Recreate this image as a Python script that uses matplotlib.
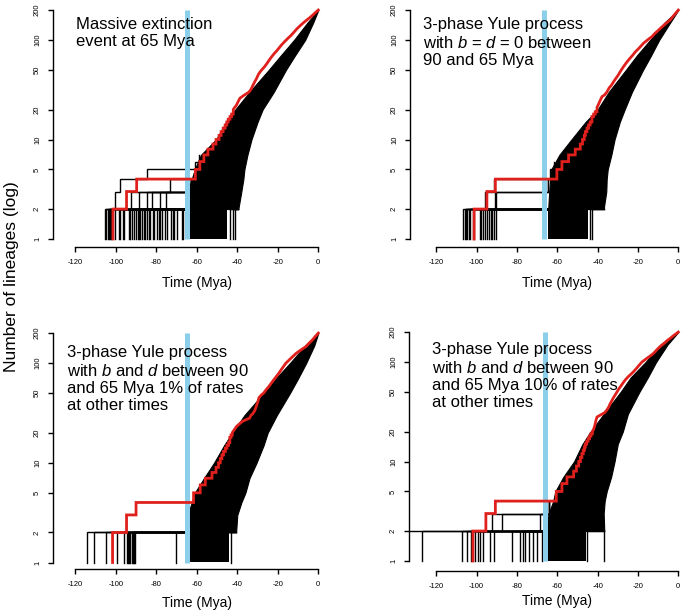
import matplotlib
matplotlib.use('Agg')
import matplotlib.pyplot as plt

plt.rcParams['font.family'] = ['Liberation Sans', 'DejaVu Sans']
plt.rcParams['mathtext.fontset'] = 'custom'
plt.rcParams['mathtext.rm'] = 'Liberation Sans'
plt.rcParams['mathtext.it'] = 'Liberation Sans:italic'
plt.rcParams['axes.unicode_minus'] = False
plt.rcParams['lines.solid_joinstyle'] = 'miter'

# lineage counts at which the edges of the dense black band were read
band_n = [2, 3, 4, 5, 7, 10, 15, 20, 30, 50, 70, 100, 150, 200]
x_ticks = [-120, -100, -80, -60, -40, -20, 0]
y_ticks = [1, 2, 5, 10, 20, 50, 100, 200]
# position of the blue marker line as drawn in each panel
event_times = [-64.7, -66.4, -64.8, -65.9]

# --- panel 1: massive extinction ---
red_t_1 = [-101.4, -101.4, -94.7, -89.7, -60.7, -58.5, -56.5, -54.5, -52, -50.5, -49, -48, -47, -46, -45.2,
           -44.5, -43.6, -42.8, -42, -41.3, -40.5, -39.6, -38.7, -37.6, -36.5, -35.3, -34.2, -33.2, -32.3,
           -31.4, -30.5, -29.6, -28.7, -27.6, -26.5, -25.4, -24.2, -23, -21.8, -20.5, -19.2, -18, -16.5, -15,
           -13.5, -12, -10.5, -9, -7.5, -6, -4.5, -3, -1.5, 0]
red_n_1 = [1, 2, 3, 4, 5, 6, 7, 8, 9, 10, 11, 12, 13, 14, 15, 16, 17, 18, 20, 21, 22, 24, 26, 27, 28, 29, 30,
           32, 35, 38, 41, 45, 48, 51, 54, 58, 63, 68, 73, 78, 84, 90, 97, 104, 111, 120, 130, 139, 148, 157,
           166, 176, 188, 200]
band_left_1 = [-65, -64.5, -62.5, -61, -58, -50.5, -45.5, -41, -34, -24.5, -18.5, -12, -5.3, 0]
band_right_1 = [-39.5, -38, -37, -36.5, -35, -33, -30, -27.5, -22, -16, -11.5, -6.5, -2.5, 0]
stem_1 = [-65, -45]
roots_1 = [-105.2, -102.8, -102.2, -100.2, -98.6, -96.5, -95.8, -92.8, -92, -91.2, -89.2, -88.7, -88.2, -87.1,
           -85.5, -84.6, -83.6, -83, -81.8, -81, -79.7, -78.9, -78, -77, -75.8, -74.7, -72.7, -71.9, -71.1,
           -69.8, -67.3, -66.8]
late_roots_1 = [-43.5, -42, -41]
early_t_1 = [[-104.6, -104.6, -100.6, -97.8, -84.6, -60.7, -59],
             [-104, -104, -88.5, -73.1, -61],
             [-103.4, -103.4, -92.5, -62.5],
             [-97.8, -97.8, -84.8, -63],
             [-93.7, -93.7, -82, -64],
             [-90, -90, -78.4, -64],
             [-86.3, -86.3, -75, -64]]
early_n_1 = [[1, 2, 3, 4, 5, 6, 7], [1, 2, 3, 4, 5], [1, 2, 3, 4], [1, 2, 3, 4], [1, 2, 3, 4], [1, 2, 3, 4],
             [1, 2, 3, 4]]

# --- panel 2: b = d = 0 between 90 and 65 Mya ---
red_t_2 = [-101.2, -101.2, -94.9, -90.7, -60.2, -57.7, -54.4, -51.1, -48.6, -47.5, -46.6, -46.1, -45.3, -44.5,
           -43.7, -42.8, -42, -41.2, -40.3, -39.4, -38.6, -37.8, -36.6, -35.4, -34.3, -33.2, -32.1, -31, -29.9,
           -28.8, -27.7, -26.6, -25.5, -24.1, -22.7, -21.3, -19.9, -18.5, -17.2, -15.8, -14.5, -13.1, -11.7,
           -10.3, -8.9, -7.3, -5.6, -4, -2.7, -1.3, 0]
red_n_2 = [1, 2, 3, 4, 5, 6, 7, 8, 9, 10, 11, 12, 13, 14, 15, 17, 18, 19, 21, 23, 25, 27, 28, 30, 33, 35, 38,
           41, 44, 48, 52, 56, 60, 65, 70, 76, 81, 87, 93, 98, 103, 108, 116, 123, 131, 140, 150, 159, 172,
           186, 200]
band_left_2 = [-64.5, -64, -63.5, -63, -59, -53, -46, -40, -34.5, -26, -20.5, -14, -6.8, 0]
band_right_2 = [-37, -35.7, -35.5, -35, -33.2, -31.6, -29, -26.6, -23, -17.5, -13.5, -9.5, -4, 0]
stem_2 = [-64.5, -45]
roots_2 = [-105.8, -104.9, -104, -101.9, -98.2, -97.6, -96.8, -95.6, -94.8, -93.8, -93.1, -92.2, -91.5, -90.6]
late_roots_2 = [-44, -42.8]
early_t_2 = [[-106.5, -106.5, -95.7, -91.6, -63.5, -61.5],
             [-105.2, -105.2, -90.2, -64.5],
             [-103.2, -103.2, -91, -64.5]]
early_n_2 = [[1, 2, 3, 4, 5, 6], [1, 2, 3, 4], [1, 2, 3, 4]]

# --- panel 3: rates 1% outside 90-65 Mya ---
red_t_3 = [-101.6, -101.6, -94.7, -90.0, -61.6, -58.3, -55.8, -52.5, -50.5, -49.3, -48.4, -47.6, -46.8, -45.9,
           -45.1, -44.3, -43.7, -43.1, -42.5, -41.8, -41.1, -40.5, -39.5, -38.5, -37.5, -35.8, -34, -33.2,
           -32.4, -31.5, -30.8, -30, -29.3, -28.1, -27, -25.8, -24.5, -23.2, -22, -20.8, -19.5, -18.3, -17.1,
           -16, -14.3, -12.7, -11, -9.4, -7.8, -6.2, -4.6, -3, -1.5, 0]
red_n_3 = [1, 2, 3, 4, 5, 6, 7, 8, 9, 10, 11, 12, 13, 14, 15, 16, 18, 19, 20, 21, 22, 23, 24, 25, 26, 27, 28,
           30, 31, 33, 36, 40, 45, 48, 50, 54, 58, 63, 68, 73, 79, 86, 93, 100, 108, 116, 125, 132, 139, 146,
           158, 170, 185, 200]
band_left_3 = [-65, -64.5, -62.5, -61, -56.5, -51.5, -46.5, -42.5, -36.5, -27, -21, -14, -6.5, 0]
band_right_3 = [-40.6, -40, -38, -36, -34, -30.5, -27, -25, -20.5, -14, -10, -6, -2, 0]
stem_3 = [-65, -44]
roots_3 = [-114.2, -111, -104.8, -99.4, -96.1, -94.5, -94, -93.4, -92.8, -92.2, -91.6, -91, -90.4, -70.1]
late_roots_3 = [-43]
early_t_3 = []
early_n_3 = []

# --- panel 4: rates 10% outside 90-65 Mya ---
red_t_4 = [-101.8, -101.8, -95.4, -90.7, -60.5, -57.7, -55.2, -51.9, -50.5, -49.4, -48.5, -47.8, -47.1, -46.5,
           -46.1, -45.4, -44.7, -44, -43.3, -42.6, -42, -41.4, -40.8, -40.3, -39, -37.7, -36.5, -35.4, -34.6,
           -33.8, -32.9, -32.1, -31.2, -30.4, -29.4, -28.3, -27.3, -26.3, -24.9, -23.6, -22.2, -20.8, -19.4,
           -18, -16.1, -14.2, -12.3, -10.9, -9.5, -8.1, -6.7, -5.4, -4, -2.7, -1.3, 0]
red_n_4 = [1, 2, 3, 4, 5, 6, 7, 8, 9, 10, 11, 12, 13, 14, 15, 16, 17, 18, 19, 20, 21, 23, 26, 28, 29, 30, 31,
           33, 35, 38, 41, 44, 47, 50, 54, 58, 62, 66, 71, 75, 80, 86, 93, 100, 107, 114, 122, 131, 140, 148,
           156, 165, 173, 182, 191, 200]
band_left_4 = [-65.5, -64.3, -62, -61, -57, -51.7, -47.5, -43.5, -37, -28.6, -23.6, -16.2, -8.8, 0]
band_right_4 = [-36.7, -37, -36.5, -35.5, -33.3, -31.6, -30, -27.5, -25, -19.3, -15.1, -11, -5.3, 0]
stem_4 = [-65.5, -46]
roots_4 = [-140, -127.1, -107.3, -102.8, -100.7, -98.2, -96.8, -93.2, -91.6, -82.5, -78.4, -77, -75.9,
           -71.8, -70.1, -67.6]
late_roots_4 = [-45.3, -36.7]
early_t_4 = [[-104.8, -104.8, -92.4, -64],
             [-99.5, -99.5, -87.4, -64],
             [-74.2, -74.2, -68.4, -64]]
early_n_4 = [[1, 2, 3, 4], [1, 2, 3, 4], [1, 2, 3, 4]]

labels = ['Massive extinction\nevent at 65 Mya',
          '3-phase Yule process\nwith $b$ = $d$ = 0 between\n90 and 65 Mya',
          '3-phase Yule process\nwith $b$ and $d$ between 90\nand 65 Mya 1% of rates\nat other times',
          '3-phase Yule process\nwith $b$ and $d$ between 90\nand 65 Mya 10% of rates\nat other times']

panels = [
    (red_t_1, red_n_1, band_left_1, band_right_1, stem_1, roots_1, late_roots_1, early_t_1, early_n_1),
    (red_t_2, red_n_2, band_left_2, band_right_2, stem_2, roots_2, late_roots_2, early_t_2, early_n_2),
    (red_t_3, red_n_3, band_left_3, band_right_3, stem_3, roots_3, late_roots_3, early_t_3, early_n_3),
    (red_t_4, red_n_4, band_left_4, band_right_4, stem_4, roots_4, late_roots_4, early_t_4, early_n_4),
]

# pixel layout of each panel: left, right, top, bottom, px of t=0, px per Myr, py of n=1, px per decade
layout = [(53, 330, 1, 247, 318.3, 2.025, 239, 99.5),
          (410, 690, 1, 247, 678.3, 2.017, 239, 99.5),
          (53, 330, 324, 569, 318.3, 2.025, 562.5, 99.7),
          (409, 690, 323, 571, 678.3, 2.017, 561, 99.5)]
text_pos = [(76, 17), (423, 17), (66.7, 345), (431.7, 342)]
xlabel_pos = [(196.7, 283), (557, 283), (197, 603), (557, 601.5)]

W, H = 684, 614
fig = plt.figure(figsize=(W / 100, H / 100), dpi=100)

for i in range(4):
    red_t, red_n, b_left, b_right, stem, roots, late_roots, early_t, early_n = panels[i]
    L, R, T, B, x0, sx, y1, sy = layout[i]
    ax = fig.add_axes([L / W, 1 - B / H, (R - L) / W, (B - T) / H])
    ax.set_yscale('log')
    ax.set_xlim((L - x0) / sx, (R - x0) / sx)
    ax.set_ylim(10 ** ((y1 - B) / sy), 10 ** ((y1 - T) / sy))

    # simulated trees
    ax.fill_betweenx([1, 2], stem[0], stem[1], color='black', lw=0)
    ax.fill_betweenx(band_n, b_left, b_right, facecolor='black', edgecolor='black', lw=0.8)
    for r in roots:
        ax.plot([r, r, stem[0] + 1], [1, 2, 2], drawstyle='steps-post', color='black', lw=1.0)
    for r in late_roots:
        ax.plot([r, r, b_right[0]], [1, 2, 2], drawstyle='steps-post', color='black', lw=1.0)
    for t, n in zip(early_t, early_n):
        ax.plot(t, n, drawstyle='steps-post', color='black', lw=1.0)

    ev = event_times[i]
    ax.plot([ev, ev], [1, 200], color='#8ccfea', lw=3.6, solid_capstyle='butt')

    # observed tree: clear steps while lineages are few, sub-pixel steps above 20
    xs, ys = [], []
    for j in range(len(red_t) - 1):
        xs.append(red_t[j])
        ys.append(red_n[j])
        if red_n[j] < 20:
            xs.append(red_t[j + 1])
            ys.append(red_n[j])
    xs.append(red_t[-1])
    ys.append(red_n[-1])
    ax.plot(xs, ys, color='#e0201c', lw=2.0)

    for s in ['top', 'right']:
        ax.spines[s].set_visible(False)
    ax.spines['left'].set_bounds(1, 200)
    ax.spines['bottom'].set_bounds(-120, 0)
    ax.spines['left'].set_linewidth(1.0)
    ax.spines['bottom'].set_linewidth(1.0)
    ax.set_xticks(x_ticks)
    ax.set_xticklabels([str(v) for v in x_ticks])
    ax.set_yticks(y_ticks)
    ax.set_yticklabels([str(v) for v in y_ticks])
    ax.minorticks_off()
    ax.tick_params(length=3.6, width=1.0, labelsize=5.5, pad=5)
    for lab in ax.get_yticklabels():
        lab.set_rotation(90)
        lab.set_va('center')

    tx, ty = text_pos[i]
    fig.text(tx / W, 1 - ty / H, labels[i], ha='left', va='top', fontsize=12, linespacing=1.2)
    lx, ly = xlabel_pos[i]
    fig.text(lx / W, 1 - ly / H, 'Time (Mya)', ha='center', va='center', fontsize=10)

fig.text(12 / W, 1 - 276.5 / H, 'Number of lineages (log)', rotation=90, ha='center', va='center', fontsize=12.5)

fig.savefig('out.png', dpi=100)
